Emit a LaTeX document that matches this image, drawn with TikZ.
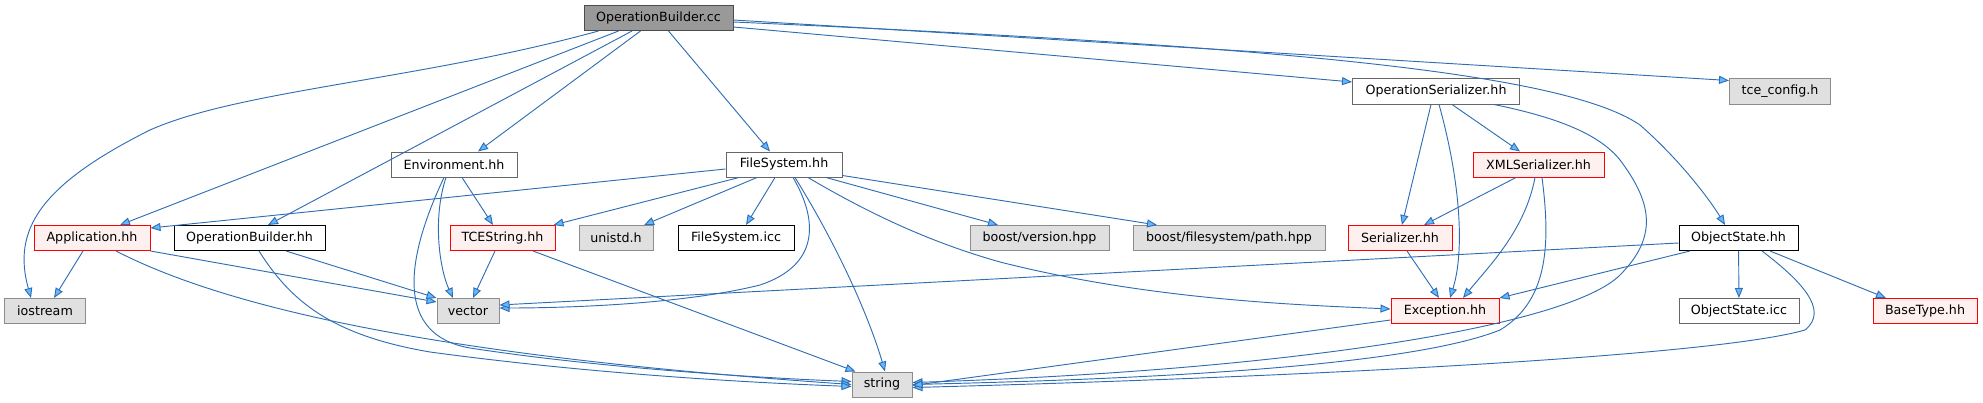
\documentclass[tikz,border=0pt]{standalone}
\usepackage{fontspec}
\setmainfont{DejaVu Sans}
\usepackage{tikz}
\usetikzlibrary{arrows.meta,calc}

\definecolor{edgeblue}{RGB}{48,110,180}
\definecolor{tipblue}{RGB}{99,184,255}
\definecolor{extfill}{RGB}{224,224,224}
\definecolor{redfill}{RGB}{255,240,240}

\begin{document}
\begin{tikzpicture}[
  x=0.75pt, y=-0.75pt,
  every node/.style={font=\fontsize{9.5}{11}\selectfont},
  file/.style={draw=black!60, fill=white, line width=0.75pt, minimum height=18.75pt, inner sep=0pt},
  mainfile/.style={file, fill=black!40, draw=black!70},
  extfile/.style={file, fill=extfill, draw=black!45},
  docfile/.style={file, draw=black},
  cutfile/.style={file, draw=red, fill=redfill},
  dep/.style={edgeblue, line width=0.7pt, -{Triangle[length=7.5pt,width=6pt,fill=tipblue]}}
]
\useasboundingbox (0,0) rectangle (1983,403);

% rij 0 en 1
\node[mainfile, minimum width=111.75pt] (obcc) at (658.5,18) {OperationBuilder.cc};
\node[file, minimum width=125.25pt] (opser) at (1436,91.5) {OperationSerializer.hh};
\node[extfile, minimum width=75.75pt] (tcecfg) at (1780,91.5) {tce\_config.h};

% rij 2
\node[file, minimum width=94.5pt] (env) at (454,164.5) {Environment.hh};
\node[file, minimum width=87pt] (fs) at (784,164.5) {FileSystem.hh};
\node[cutfile, minimum width=98.25pt] (xmlser) at (1538.5,164.5) {XMLSerializer.hh};

% rij 3
\node[cutfile, minimum width=87pt] (app) at (92,238) {Application.hh};
\node[docfile, minimum width=113.25pt] (obhh) at (249.5,238) {OperationBuilder.hh};
\node[cutfile, minimum width=78.75pt] (tcestr) at (502.5,238) {TCEString.hh};
\node[extfile, minimum width=55.5pt] (unistd) at (616,238) {unistd.h};
\node[docfile, minimum width=87pt] (fsicc) at (736,238) {FileSystem.icc};
\node[extfile, minimum width=104.25pt] (bver) at (1039.5,238) {boost/version.hpp};
\node[extfile, minimum width=144pt] (bpath) at (1229,238) {boost/filesystem/path.hpp};
\node[cutfile, minimum width=78pt] (ser) at (1400,238) {Serializer.hh};
\node[docfile, minimum width=89.25pt] (objst) at (1738.5,238) {ObjectState.hh};

% rij 4 en 5
\node[extfile, minimum width=60.4pt] (iostream) at (45,311) {iostream};
\node[extfile, minimum width=46.5pt] (vector) at (468,311) {vector};
\node[cutfile, minimum width=81pt] (exc) at (1445,311) {Exception.hh};
\node[file, minimum width=90pt] (osicc) at (1739,311) {ObjectState.icc};
\node[cutfile, minimum width=78pt] (basetype) at (1925,311) {BaseType.hh};
\node[extfile, minimum width=45pt] (string) at (882,384.5) {string};

% OperationBuilder.cc
\draw[dep] ($(obcc.south)+(-60,0)$) .. controls (420,80) and (240,90) .. (150,130)
  .. controls (40,185) and (12,230) .. ($(iostream.north)+(-14,0)$);
\draw[dep] ($(obcc.south)+(-40,0)$) -- ($(app.north)+(28,0)$);
\draw[dep] ($(obcc.south)+(-26.5,0)$) -- ($(obhh.north)+(18.5,0)$);
\draw[dep] ($(obcc.south)+(-18,0)$) -- ($(env.north)+(24,0)$);
\draw[dep] ($(obcc.south)+(10,0)$) -- ($(fs.north)+(-14,0)$);
\draw[dep] ($(obcc.east)+(0,9)$) -- ($(opser.west)+(0,-9.5)$);
\draw[dep] ($(obcc.east)+(0,2)$) -- ($(tcecfg.west)+(0,-11)$);
\draw[dep] ($(obcc.east)+(0,4)$) .. controls (1250,45) and (1560,70) .. (1640,125)
  .. controls (1680,160) and (1710,200) .. ($(objst.north)+(-13.5,0)$);

% Environment.hh
\draw[dep] ($(env.south)+(8,0)$) -- ($(tcestr.north)+(-9.5,0)$);
\draw[dep] ($(env.south)+(-8,0)$) .. controls (432,220) and (440,270) .. ($(vector.north)+(-15,0)$);
\draw[dep] ($(env.south)+(-10,0)$) .. controls (405,260) and (395,335) .. (470,348)
  .. controls (600,368) and (760,378) .. ($(string.west)+(0,-3)$);

% FileSystem.hh
\draw[dep] ($(fs.west)+(0,4.5)$) -- ($(app.east)+(0,-10)$);
\draw[dep] ($(fs.south)+(-45,0)$) -- ($(tcestr.north east)+(-2,0)$);
\draw[dep] ($(fs.south)+(-27,0)$) -- ($(unistd.north)+(28,0)$);
\draw[dep] ($(fs.south)+(-9,0)$) -- ($(fsicc.north)+(10,0)$);
\draw[dep] ($(fs.south)+(9,0)$) .. controls (818,220) and (820,265) .. (760,285)
  .. controls (680,305) and (560,308) .. ($(vector.east)+(0,-3)$);
\draw[dep] ($(fs.south)+(11,0)$) .. controls (840,250) and (870,320) .. ($(string.north)+(3,0)$);
\draw[dep] ($(fs.south)+(24,0)$) .. controls (880,220) and (940,245) .. (1000,262)
  .. controls (1150,300) and (1300,305) .. ($(exc.west)+(0,-2)$);
\draw[dep] ($(fs.south)+(42,0)$) -- ($(bver.north)+(-41.5,0)$);
\draw[dep] ($(fs.south east)+(0,-2)$) -- ($(bpath.north)+(-72,0)$);

% Application.hh
\draw[dep] ($(app.south)+(-9,0)$) -- ($(iostream.north)+(9,0)$);
\draw[dep] (app.south east) -- ($(vector.west)+(0,-9)$);
\draw[dep] ($(app.south)+(24,0)$) .. controls (250,320) and (500,360) .. ($(string.west)+(0,0)$);

% OperationBuilder.hh
\draw[dep] ($(obhh.south)+(36.5,0)$) -- (vector.north west);
\draw[dep] ($(obhh.south)+(9.5,0)$) .. controls (290,300) and (330,335) .. (430,352)
  .. controls (600,375) and (760,383) .. ($(string.west)+(0,2)$);

% TCEString.hh
\draw[dep] ($(tcestr.south)+(-7.5,0)$) -- ($(vector.north)+(5,0)$);
\draw[dep] ($(tcestr.south)+(30.5,0)$) -- ($(string.north west)+(4,0)$);

% OperationSerializer.hh
\draw[dep] ($(opser.south)+(-5,0)$) -- ($(ser.north)+(2,0)$);
\draw[dep] ($(opser.south)+(3,0)$) .. controls (1460,180) and (1465,250) .. ($(exc.north)+(5,0)$);
\draw[dep] ($(opser.south)+(16,0)$) -- ($(xmlser.north)+(-18.5,0)$);
\draw[dep] ($(opser.south)+(58,0)$) .. controls (1560,118) and (1600,135) .. (1620,160)
  .. controls (1650,200) and (1660,235) .. (1620,275)
  .. controls (1570,325) and (1300,370) .. ($(string.east)+(0,-2)$);

% XMLSerializer.hh
\draw[dep] ($(xmlser.south)+(-22.5,0)$) -- ($(ser.north)+(24,0)$);
\draw[dep] ($(xmlser.south)+(-3.5,0)$) .. controls (1525,230) and (1490,265) .. ($(exc.north)+(18,0)$);
\draw[dep] ($(xmlser.south)+(3.5,0)$) .. controls (1550,240) and (1550,300) .. (1500,330)
  .. controls (1400,370) and (1100,380) .. (string.east);

% Serializer.hh
\draw[dep] ($(ser.south)+(7,0)$) -- ($(exc.north)+(-6,0)$);

% ObjectState.hh
\draw[dep] ($(objst.west)+(0,5)$) -- ($(vector.east)+(0,-6)$);
\draw[dep] ($(objst.south)+(-48.5,0)$) -- (exc.north east);
\draw[dep] (objst) -- (osicc);
\draw[dep] ($(objst.south)+(31.5,0)$) -- ($(basetype.north)+(-39,0)$);
\draw[dep] ($(objst.south)+(23.5,0)$) .. controls (1800,280) and (1830,310) .. (1805,330)
  .. controls (1700,360) and (1200,380) .. ($(string.east)+(0,3)$);

% Exception.hh
\draw[dep] ($(exc.west)+(0,9)$) -- ($(string.east)+(0,1)$);

\end{tikzpicture}
\end{document}
